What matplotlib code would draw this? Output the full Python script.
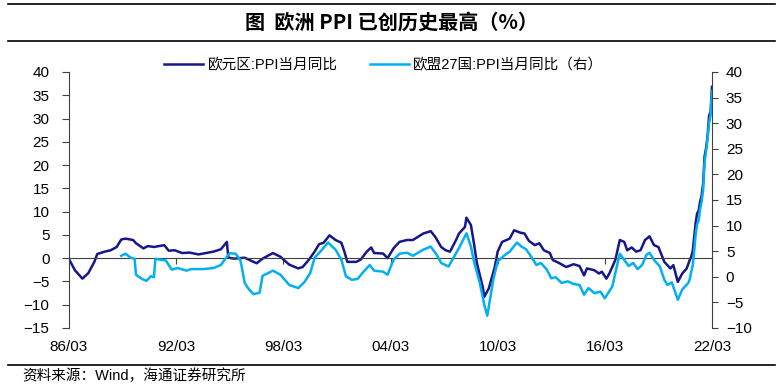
import matplotlib.pyplot as plt
import pandas as pd

plt.rcParams['font.family'] = ['Liberation Sans', 'Noto Sans CJK SC']

# 欧元区 PPI 当月同比 (left axis)
ea_dates = ["1986-03", "1986-07", "1986-12", "1987-04", "1987-08", "1987-10", "1988-03", "1988-07",
            "1988-11", "1989-02", "1989-05", "1989-10", "1989-12", "1990-05", "1990-08", "1990-12",
            "1991-07", "1991-10", "1992-02", "1992-07", "1992-12", "1993-06", "1994-04", "1994-09",
            "1995-01", "1995-02", "1995-06", "1996-01", "1996-09", "1997-01", "1997-08", "1998-01",
            "1998-07", "1999-01", "1999-04", "1999-08", "1999-12", "2000-03", "2000-06", "2000-10",
            "2001-02", "2001-06", "2001-08", "2001-10", "2002-04", "2002-07", "2002-11", "2003-02",
            "2003-04", "2003-10", "2004-01", "2004-05", "2004-09", "2005-02", "2005-06", "2006-01",
            "2006-06", "2006-09", "2007-01", "2007-04", "2007-07", "2007-11", "2008-01", "2008-05",
            "2008-06", "2008-09", "2008-11", "2009-01", "2009-05", "2009-06", "2009-09", "2010-01",
            "2010-03", "2010-06", "2010-11", "2011-02", "2011-06", "2011-09", "2011-12", "2012-04",
            "2012-07", "2012-10", "2013-02", "2013-04", "2013-08", "2014-01", "2014-06", "2014-10",
            "2015-01", "2015-03", "2015-08", "2015-11", "2016-01", "2016-04", "2016-06", "2016-10",
            "2017-01", "2017-04", "2017-06", "2017-09", "2017-12", "2018-03", "2018-06", "2018-09",
            "2018-12", "2019-03", "2019-07", "2019-11", "2020-01", "2020-04", "2020-07", "2020-10",
            "2020-12", "2021-01", "2021-02", "2021-03", "2021-04", "2021-05", "2021-06", "2021-07",
            "2021-08", "2021-09", "2021-10", "2021-11", "2021-12", "2022-01", "2022-02", "2022-03"]
ea_values = [-0.2, -2.6, -4.4, -3.2, -0.8, 0.9, 1.4, 1.7,
             2.4, 4.0, 4.2, 3.9, 3.2, 2.1, 2.6, 2.4,
             2.8, 1.6, 1.7, 1.1, 1.2, 0.8, 1.4, 1.9,
             3.5, 0.1, -0.1, 0.1, -1.1, -0.1, 1.1, 0.3,
             -1.4, -2.2, -1.9, -0.4, 1.4, 3.0, 3.3, 4.9,
             3.9, 3.3, 1.4, -0.8, -0.8, -0.3, 1.4, 2.3,
             1.1, 1.0, 0.0, 2.1, 3.5, 3.9, 3.9, 5.3,
             5.8, 4.6, 2.4, 1.7, 1.4, 3.9, 5.3, 6.7,
             8.7, 7.1, 3.2, -1.1, -6.2, -8.3, -6.5, -1.9,
             1.4, 3.5, 4.2, 6.0, 5.5, 5.3, 3.7, 2.8,
             3.2, 1.7, 1.1, -0.4, -1.0, -1.9, -1.3, -1.7,
             -3.7, -2.2, -2.6, -3.3, -2.9, -4.4, -3.3, -0.4,
             3.9, 3.5, 1.7, 2.3, 1.4, 1.7, 3.9, 4.7,
             2.8, 2.4, -0.8, -2.2, -1.5, -5.1, -3.3, -2.2,
             -0.4, 0.3, 1.6, 4.4, 7.6, 9.6, 10.2, 12.1,
             13.4, 16.0, 21.9, 23.7, 26.2, 30.6, 31.5, 36.8]

# 欧盟27国 PPI 当月同比 (right axis)
eu_dates = ["1989-02", "1989-05", "1989-08", "1989-11", "1989-12", "1990-04", "1990-07", "1990-10",
            "1990-12", "1991-01", "1991-05", "1991-08", "1991-12", "1992-04", "1992-10", "1993-01",
            "1993-06", "1993-09", "1994-04", "1994-09", "1994-12", "1995-03", "1995-07", "1995-10",
            "1995-11", "1996-01", "1996-04", "1996-07", "1996-11", "1997-01", "1997-04", "1997-08",
            "1998-01", "1998-07", "1999-01", "1999-05", "1999-09", "1999-12", "2000-05", "2000-09",
            "2001-02", "2001-06", "2001-09", "2002-01", "2002-05", "2002-08", "2003-01", "2003-04",
            "2003-10", "2004-01", "2004-05", "2004-09", "2005-02", "2005-06", "2006-01", "2006-06",
            "2006-10", "2007-01", "2007-06", "2007-11", "2008-01", "2008-06", "2008-09", "2008-11",
            "2009-03", "2009-06", "2009-08", "2009-12", "2010-03", "2010-08", "2010-11", "2011-04",
            "2011-07", "2011-10", "2012-02", "2012-05", "2012-08", "2012-12", "2013-03", "2013-06",
            "2013-10", "2014-02", "2014-06", "2014-10", "2015-01", "2015-04", "2015-08", "2015-12",
            "2016-03", "2016-08", "2016-10", "2017-01", "2017-04", "2017-07", "2017-10", "2018-01",
            "2018-04", "2018-07", "2018-09", "2018-12", "2019-04", "2019-07", "2019-09", "2019-12",
            "2020-04", "2020-07", "2020-11", "2020-12", "2021-01", "2021-02", "2021-03", "2021-04",
            "2021-05", "2021-06", "2021-07", "2021-08", "2021-09", "2021-10", "2021-11", "2021-12",
            "2022-01", "2022-02", "2022-03"]
eu_values = [4.1, 4.5, 3.8, 3.5, 0.4, -0.4, -0.8, 0.1,
             -0.1, 3.5, 3.3, 3.2, 1.4, 1.7, 1.2, 1.5,
             1.5, 1.5, 1.7, 2.3, 3.5, 4.6, 4.5, 3.3,
             2.0, -1.2, -2.5, -3.4, -3.1, 0.2, 0.6, 1.2,
             0.4, -1.6, -2.2, -1.1, 0.7, 3.7, 5.3, 6.7,
             5.3, 3.3, 0.1, -0.6, -0.4, 0.7, 2.3, 1.2,
             1.0, 0.4, 3.3, 4.5, 4.7, 4.1, 5.3, 5.9,
             4.3, 2.7, 2.0, 4.6, 5.6, 8.5, 5.9, 3.0,
             -1.2, -5.5, -7.6, -0.6, 3.0, 4.3, 4.9, 6.7,
             5.9, 5.4, 3.7, 2.3, 2.7, 1.4, -0.3, -0.1,
             -1.2, -0.9, -1.4, -1.6, -3.5, -2.2, -3.2, -2.9,
             -4.2, -1.9, 0.7, 4.5, 3.3, 2.1, 2.7, 1.5,
             2.3, 4.3, 4.7, 3.3, 2.0, -0.6, -1.6, -1.1,
             -4.5, -2.5, -1.2, -0.5, 1.0, 2.2, 5.0, 8.2,
             10.3, 11.0, 13.2, 14.7, 16.9, 22.3, 24.6, 27.0,
             30.0, 31.6, 36.3]

tick_dates = ["1986-03", "1992-03", "1998-03", "2004-03", "2010-03", "2016-03", "2022-03"]
tick_labels = ["86/03", "92/03", "98/03", "04/03", "10/03", "16/03", "22/03"]

dark = '#17178a'
light = '#00b0f0'
axis_c = '#404040'

fig = plt.figure(figsize=(7.83, 3.87), dpi=100)
ax = fig.add_axes([0.0881, 0.1525, 0.8212, 0.6615])
ax2 = ax.twinx()

ax.plot(pd.to_datetime(ea_dates), ea_values, color=dark, lw=1.8, label='欧元区:PPI当月同比')
ax2.plot(pd.to_datetime(eu_dates), eu_values, color=light, lw=1.8, label='欧盟27国:PPI当月同比（右）')

ax.set_xlim(pd.Timestamp('1986-03-01'), pd.Timestamp('2022-03-01'))
ax.set_ylim(-15, 40)
ax2.set_ylim(-10, 40)
ax.set_yticks(range(-15, 41, 5))
ax2.set_yticks(range(-10, 41, 5))

# zero line acts as the category axis
ax.spines['top'].set_visible(False)
ax.spines['right'].set_visible(False)
ax.spines['bottom'].set_position(('data', 0))
ax.spines['bottom'].set_color(axis_c)
ax.spines['left'].set_color(axis_c)
for s in ['top', 'bottom', 'left']:
    ax2.spines[s].set_visible(False)
ax2.spines['right'].set_color(axis_c)

ax.set_xticks(pd.to_datetime(tick_dates))
ax.tick_params(axis='x', direction='out', length=4, color=axis_c, labelbottom=False)
ax.tick_params(axis='y', direction='out', length=5, color=axis_c, pad=9, labelsize=11)
ax2.tick_params(axis='y', direction='out', length=4, color=axis_c, pad=6, labelsize=11)

sec = ax.secondary_xaxis('bottom')
sec.set_xticks(pd.to_datetime(tick_dates), labels=tick_labels)
sec.spines['bottom'].set_visible(False)
sec.tick_params(length=0, pad=9, labelsize=11)

h1, l1 = ax.get_legend_handles_labels()
h2, l2 = ax2.get_legend_handles_labels()
fig.legend(h1 + h2, l1 + l2, loc='center', bbox_to_anchor=(0.49, 0.832), ncol=2,
           frameon=False, fontsize=10.5, handlelength=2.7, columnspacing=2.2, handletextpad=0.3)

# title block and source line
fig.text(0.5, 1 - 22 / 387, '图  欧洲 PPI 已创历史最高（%）', ha='center', va='center',
         fontsize=14.5, fontweight='bold', family=['Noto Sans CJK SC'])
for yy in [1 - 4 / 387, 1 - 41 / 387, 1 - 365 / 387]:
    fig.add_artist(plt.Line2D([0.01, 0.99], [yy, yy], color='black', lw=1.2))
fig.text(22 / 783, 1 - 376 / 387, '资料来源：Wind，海通证券研究所', ha='left', va='center', fontsize=10.5)

fig.savefig('out.png', dpi=100)
